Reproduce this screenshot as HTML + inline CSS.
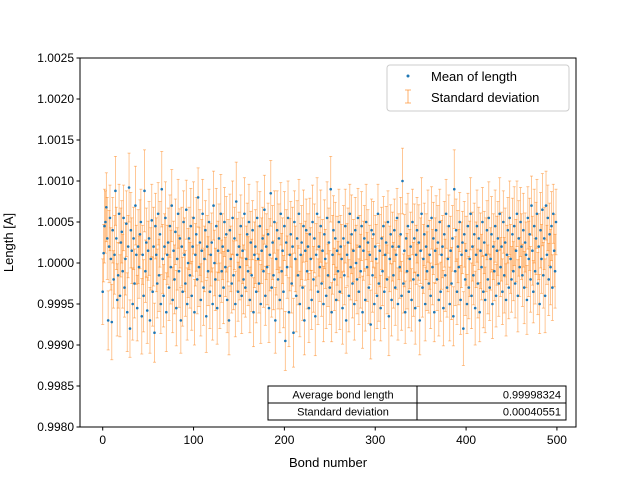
<!DOCTYPE html>
<html><head><meta charset="utf-8"><style>
body{margin:0;background:#fff;}
svg{font-family:"Liberation Sans","DejaVu Sans",sans-serif;}
</style></head><body>
<svg id="chart" width="640" height="480" xmlns="http://www.w3.org/2000/svg"></svg>
<script>
// deviations from 1.0, in units of 1e-5
const means = [
-35,12,45,50,68,30,-70,20,55,5,-72,40,-20,10,88,30,-45,-15,60,-40,
25,38,-10,55,-30,5,48,-60,20,92,-80,40,15,-50,30,-25,70,10,-55,20,
-5,35,50,-65,10,-40,88,-10,25,-58,15,30,-70,5,52,-35,20,-85,45,10,
-25,60,-15,35,-50,90,5,-40,20,55,-60,10,25,-30,45,-5,70,-45,15,-20,
38,-55,5,60,-10,30,-70,20,-35,50,10,-25,65,-50,0,30,-15,45,-40,20,
55,-60,10,35,-20,80,-5,25,-45,15,60,-30,5,40,-65,20,-10,50,-35,10,
25,-50,70,0,-20,45,-55,15,30,-40,60,-10,20,-30,50,-5,35,-45,15,-70,
40,5,-25,55,-15,30,-50,75,10,-35,20,-5,45,-40,15,-20,60,-30,5,35,
-10,50,-45,25,-15,40,-60,10,20,-35,55,5,-25,45,-50,15,30,-10,65,-40,
20,-5,35,-55,10,85,-30,25,-15,50,-70,5,40,-20,30,-45,60,-10,15,-35,
45,-95,25,-5,55,-60,10,35,-25,20,-85,50,5,-40,30,-15,60,-50,10,25,
-30,45,-70,15,40,-10,20,-55,35,5,-45,50,-20,30,-65,10,60,-35,20,-5,
45,-25,15,-50,35,5,-40,55,-15,25,-30,90,-60,10,40,-20,30,-45,15,-10,
50,-35,20,5,-55,30,-15,45,-70,10,25,-40,60,-5,35,-25,15,-50,40,0,
-20,55,-35,20,-10,45,-60,15,30,-45,50,-5,25,-30,10,-75,40,-15,35,-50,
20,5,-40,60,-25,15,-55,30,-10,45,-35,10,25,-20,50,-65,5,35,-45,20,
-15,40,-30,10,55,-50,20,-5,35,-40,100,-25,15,-60,30,-10,45,-35,5,20,
-45,50,-20,30,-55,10,40,-15,25,-70,15,60,-30,5,35,-50,20,-10,45,-25,
10,-40,55,-5,30,-60,15,40,-20,25,-45,50,-35,10,20,-55,35,-15,60,-30,
5,45,-50,15,-25,30,-65,90,-10,40,-35,20,-5,50,-45,10,25,-80,35,-20,
15,-50,45,-30,5,60,-40,20,-15,35,-55,10,45,-25,30,-60,15,-5,50,-35,
25,-45,10,40,-20,55,-30,5,35,-50,20,-10,45,-40,15,30,-25,60,-5,20,
-35,50,-15,25,-45,10,40,-30,55,5,-20,35,-10,45,-25,15,60,-40,30,-5,
50,20,-15,40,-30,25,10,-45,55,5,35,-20,70,15,-35,45,-10,30,60,-25,
20,-50,40,5,65,-15,30,-40,70,10,55,-20,35,-5,45,-30,60,15,-10,50
];
const errs = [
40,35,45,38,42,50,36,44,40,38,46,40,35,48,42,38,44,40,36,50,
42,38,45,40,36,44,40,48,38,42,35,46,40,44,38,42,48,36,40,45,
38,42,40,46,36,44,50,38,42,40,36,45,40,38,44,42,48,36,40,45,
42,38,44,40,36,46,42,38,40,44,48,36,42,40,38,45,44,40,36,42,
40,46,38,42,44,36,40,48,42,38,45,40,36,44,42,38,40,46,42,36,
44,40,38,45,42,36,48,40,44,38,42,46,40,36,44,38,42,40,45,38,
36,44,42,40,38,46,44,36,42,40,48,38,40,44,42,36,46,40,38,42,
44,40,36,45,42,38,40,48,44,36,42,40,38,46,40,42,44,36,40,38,
42,46,40,38,44,36,42,40,45,38,44,40,36,42,48,40,38,44,42,36,
40,46,38,42,44,40,36,45,42,38,40,44,48,36,42,40,38,46,40,44,
42,36,40,38,45,42,44,40,36,48,42,38,40,44,46,36,42,40,38,45,
40,44,42,36,38,46,40,42,44,38,36,45,40,42,48,38,44,40,36,42,
44,40,38,46,42,36,40,44,38,42,45,40,36,48,42,38,44,40,42,36,
40,46,38,42,44,40,36,45,40,38,42,44,36,40,48,42,38,44,40,46,
42,36,40,38,45,42,44,36,40,38,46,42,40,44,36,42,38,45,40,44,
38,42,40,36,46,44,40,38,42,36,45,40,44,42,38,48,40,36,44,42,
40,38,46,42,36,44,40,38,45,42,40,36,44,38,42,46,40,44,36,42,
38,40,45,42,44,36,40,38,46,42,40,44,36,42,38,45,40,48,44,36,
42,40,38,46,44,36,40,42,38,45,44,40,36,42,38,46,40,44,42,36,
40,38,45,42,44,40,36,48,42,38,40,44,46,36,42,40,38,45,40,44,
42,36,40,38,46,44,40,42,36,38,45,40,44,42,38,36,46,40,42,44,
38,40,45,36,42,44,40,38,46,42,40,36,44,38,42,45,40,44,36,42,
40,38,46,42,44,36,40,38,45,42,40,44,36,48,42,38,40,44,46,36,
42,40,38,45,44,36,40,42,38,46,44,40,36,42,38,45,40,44,42,38,
40,36,46,42,44,40,38,45,42,36,40,44,38,46,42,40,36,44,45,40
];
const yTicks = ["0.9980","0.9985","0.9990","0.9995","1.0000","1.0005","1.0010","1.0015","1.0020","1.0025"];
const yTickVals = [0.9980,0.9985,0.9990,0.9995,1.0000,1.0005,1.0010,1.0015,1.0020,1.0025];
const xTickVals = [0,100,200,300,400,500];
const tableLabels = ["Average bond length","Standard deviation"];
const tableValues = ["0.99998324","0.00040551"];

const NS="http://www.w3.org/2000/svg";
const svg=document.getElementById('chart');
const L=80,R=576,T=58,B=427;
const xMin=-25,xMax=521,yMin=0.998,yMax=1.0025;
function xs(v){return L+(v-xMin)/(xMax-xMin)*(R-L);}
function ys(v){return B-(v-yMin)/(yMax-yMin)*(B-T);}
function mk(tag,attrs,parent){const e=document.createElementNS(NS,tag);for(const k in attrs)e.setAttribute(k,attrs[k]);(parent||svg).appendChild(e);return e;}

const bars=mk('g',{});


const pts=mk('g',{});


for(let i=0;i<means.length;i++){
  const m=1+means[i]*1e-5, e=errs[i]*1e-5, x=xs(i);
  const y1=ys(m-e),y2=ys(m+e);
  const g=mk('g',{stroke:'#ff7f0e','stroke-opacity':'0.55','stroke-width':'0.8'},bars);
  
  
  mk('line',{x1:x,x2:x,y1:y1,y2:y2},g);
  mk('line',{x1:x-1.5,x2:x+1.5,y1:y1,y2:y1},g);
  mk('line',{x1:x-1.5,x2:x+1.5,y1:y2,y2:y2},g);
  const c=mk('circle',{cx:x,cy:ys(m),r:1.3,fill:'#1f77b4'},pts);
  
  
}
const frame=mk('rect',{x:L,y:T,width:R-L,height:B-T,fill:'none',stroke:'#000','stroke-width':1});


for(let i=0;i<yTickVals.length;i++){
  const y=ys(yTickVals[i]);
  mk('line',{x1:L-3.5,x2:L,y1:y,y2:y,stroke:'#000'});
  const t=mk('text',{x:L-6,y:y+4,'text-anchor':'end','font-size':12});
  t.textContent=yTicks[i];
  
  
}
for(const v of xTickVals){
  const x=xs(v);
  mk('line',{x1:x,x2:x,y1:B,y2:B+3.5,stroke:'#000'});
  const t=mk('text',{x:x,y:B+17,'text-anchor':'middle','font-size':12});
  t.textContent=String(v);
  
  
}
const xt=mk('text',{x:(L+R)/2,y:467,'text-anchor':'middle','font-size':13});
xt.textContent='Bond number';


const yt=mk('text',{x:0,y:0,'text-anchor':'middle','font-size':13,transform:`translate(13,${(T+B)/2}) rotate(-90)`});
yt.textContent='Length [A]';



// legend
const lg=mk('g',{});


mk('rect',{x:387,y:65,width:182,height:46,rx:3,fill:'#fff','fill-opacity':0.85,stroke:'#ccc'},lg);
mk('circle',{cx:408,cy:76,r:1.5,fill:'#1f77b4'},lg);
const l1=mk('text',{x:431,y:81,'font-size':13},lg);l1.textContent='Mean of length';


mk('line',{x1:408,x2:408,y1:90,y2:103,stroke:'#ff7f0e','stroke-opacity':0.6},lg);
mk('line',{x1:405,x2:411,y1:90,y2:90,stroke:'#ff7f0e','stroke-opacity':0.6},lg);
mk('line',{x1:405,x2:411,y1:103,y2:103,stroke:'#ff7f0e','stroke-opacity':0.6},lg);
const l2=mk('text',{x:431,y:102,'font-size':13},lg);l2.textContent='Standard deviation';



// table
const tb=mk('g',{});


for(let r=0;r<2;r++){
  const y=386+r*17;
  mk('rect',{x:268,y:y,width:149,height:17,fill:'#fff',stroke:'#000'},tb);
  mk('rect',{x:417,y:y,width:149,height:17,fill:'#fff',stroke:'#000'},tb);
  const a=mk('text',{x:343,y:y+12.5,'text-anchor':'middle','font-size':11},tb);a.textContent=tableLabels[r];
  
  
  const b=mk('text',{x:561,y:y+12.5,'text-anchor':'end','font-size':11},tb);b.textContent=tableValues[r];
  
  
}
</script>
</body></html>
